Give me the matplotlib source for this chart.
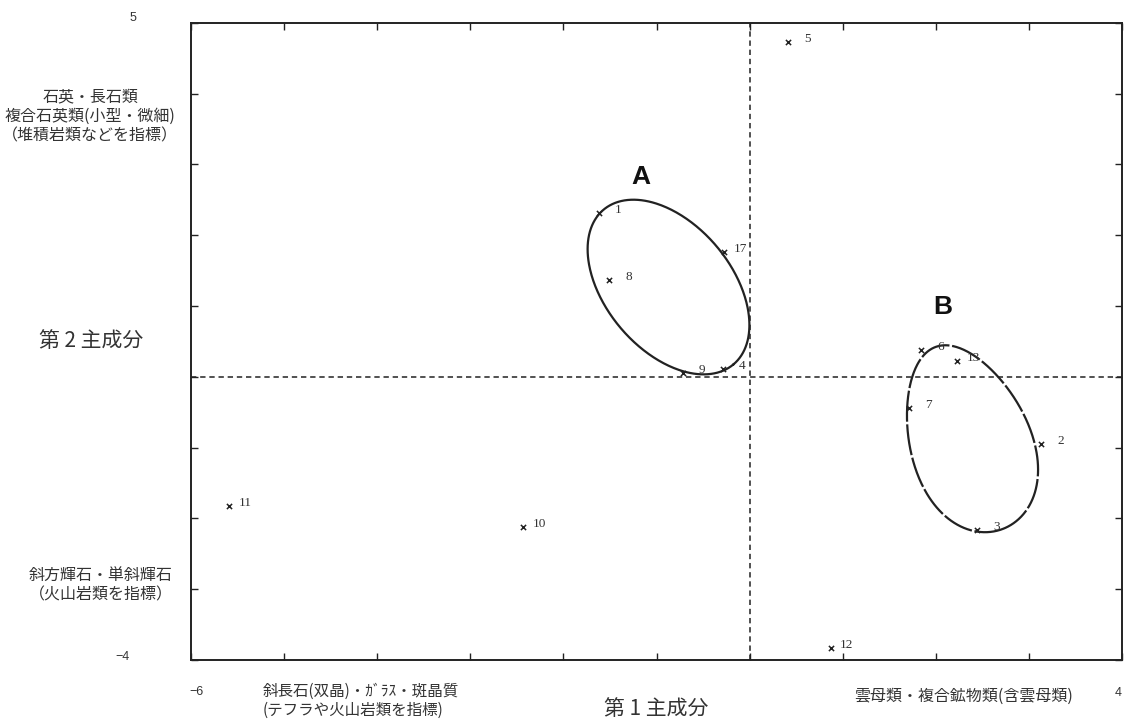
import numpy as np
import matplotlib
matplotlib.use("Agg")
import matplotlib.pyplot as plt

plt.rcParams['font.family'] = ['Noto Sans CJK JP', 'DejaVu Sans']

# sample scores (PC1, PC2)
sample_ids = ['1', '2', '3', '4', '5', '6', '7', '8', '9', '10', '11', '12', '13', '17']
pc1 = [-1.62, 3.13, 2.44, -0.29, 0.41, 1.84, 1.71, -1.51, -0.72, -2.43, -5.59, 0.87, 2.23, -0.27]
pc2 = [2.31, -0.95, -2.17, 0.11, 4.73, 0.38, -0.44, 1.37, 0.05, -2.12, -1.83, -3.83, 0.22, 1.76]

# group outlines: centre (data), semi axes (px), angle (deg), egg factor
group_names = ['A', 'B']
group_centre_x = [-0.871, 2.355]
group_centre_y = [1.267, -0.866]
group_a = [101.0, 97.0]
group_b = [63.0, 60.0]
group_angle = [-50.0, -70.0]
group_egg = [0.0, 0.15]
group_label_x = [-1.17, 2.08]
group_label_y = [2.82, 0.98]

xlim = (-6, 4)
ylim = (-4, 5)

fig = plt.figure(figsize=(11.3, 7.24), dpi=100)
ax = fig.add_axes([191 / 1130, 1 - 660 / 724, (1122 - 191) / 1130, (660 - 22.7) / 724])
ax.set_xlim(*xlim)
ax.set_ylim(*ylim)

ink = '#222222'
for s in ax.spines.values():
    s.set_linewidth(1.4)
    s.set_color(ink)
ax.set_xticks(np.arange(xlim[0], xlim[1] + 1))
ax.set_yticks(np.arange(ylim[0], ylim[1] + 1))
ax.tick_params(direction='in', length=5, width=1.0, color=ink,
               top=True, right=True, labelbottom=False, labelleft=False)

ax.axhline(0, color=ink, lw=1.1, ls=(0, (3.5, 2.5)))
ax.axvline(0, color=ink, lw=1.1, ls=(0, (3.5, 2.5)))

# outlines drawn in pixel space, converted back to data
bb = ax.get_window_extent()
sx = bb.width / (xlim[1] - xlim[0])
sy = bb.height / (ylim[1] - ylim[0])
t = np.linspace(0, 2 * np.pi, 400)
styles = ['-', (0, (14, 1.2))]
for i in range(len(group_names)):
    u = group_a[i] * np.cos(t)
    v = group_b[i] * np.sin(t) * (1 + group_egg[i] * np.cos(t))
    phi = np.radians(group_angle[i])
    xs = group_centre_x[i] + (u * np.cos(phi) - v * np.sin(phi)) / sx
    ys = group_centre_y[i] + (u * np.sin(phi) + v * np.cos(phi)) / sy
    ax.plot(xs, ys, color=ink, lw=1.6, ls=styles[i])
    ax.text(group_label_x[i], group_label_y[i], group_names[i], fontsize=19,
            fontweight='bold', family='Liberation Sans', ha='center', va='center',
            color='#111111')

ax.scatter(pc1, pc2, marker='x', s=14, color=ink, linewidths=1.1, zorder=3)
for sid, x, y in zip(sample_ids, pc1, pc2):
    ax.annotate(sid, (x, y), xytext=(23, 3), textcoords='offset pixels',
                ha='right', va='center', fontsize=9.5, family='Liberation Serif',
                color='#333333')

txt = '#333333'


def ftext(x, y, s, **kw):
    fig.text(x / 1130, 1 - y / 724, s, color=txt, **kw)


# axis end values
end_labels = ['5', '\u22124', '\u22126', '4']
end_px = [(133, 18), (123, 657), (196, 692), (1118, 693)]
for lab, (x, y) in zip(end_labels, end_px):
    ftext(x, y, lab, fontsize=9, family='Liberation Sans', ha='center', va='center')

ftext(91, 341, '第 2 主成分', fontsize=15, ha='center', va='center')
ftext(656, 709, '第 1 主成分', fontsize=15, ha='center', va='center')
ftext(90, 116, '石英・長石類\n複合石英類(小型・微細)\n（堆積岩類などを指標）',
      fontsize=11.5, ha='center', va='center', linespacing=1.2)
ftext(101, 585, '斜方輝石・単斜輝石\n（火山岩類を指標）',
      fontsize=11.5, ha='center', va='center', linespacing=1.2)
ftext(263, 701, '斜長石(双晶)・ｶﾞﾗｽ・斑晶質\n(テフラや火山岩類を指標)',
      fontsize=11.2, ha='left', va='center', linespacing=1.2)
ftext(854, 696, '雲母類・複合鉱物類(含雲母類)',
      fontsize=11.5, ha='left', va='center')

fig.savefig('out.png', dpi=100)
